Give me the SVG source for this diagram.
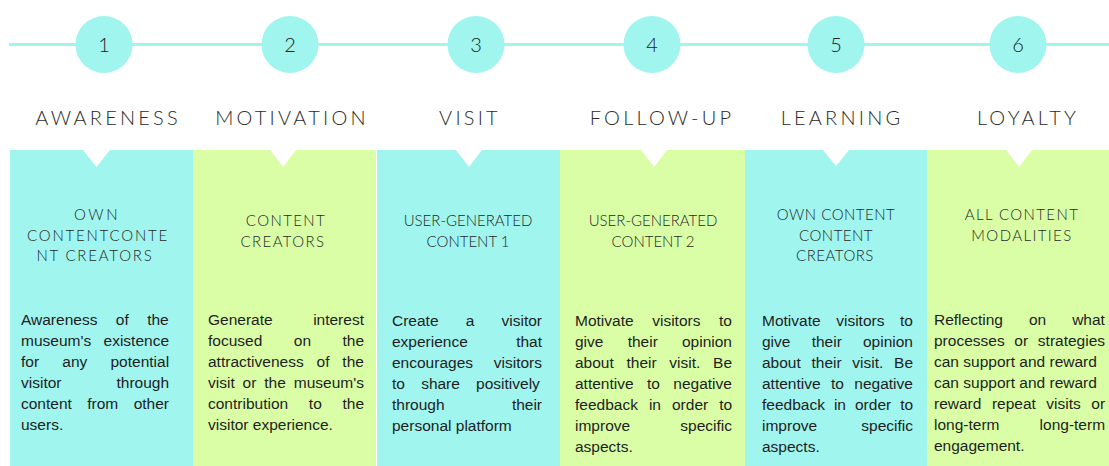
<svg xmlns="http://www.w3.org/2000/svg" width="1109" height="466" viewBox="0 0 1109 466">
  <style>
    .cyan { fill: #a0f5ee; }
    .green { fill: #d9fea5; }
    .notch { fill: #ffffff; }
    .num { font-family: Lato, "Noto Sans", sans-serif; font-size: 20px; fill: #222222; text-anchor: middle; font-weight: 300; }
    .stage { font-family: Lato, "Noto Sans", sans-serif; font-size: 20px; fill: #2a2a2a; text-anchor: middle; letter-spacing: 3.2px; font-weight: 300; }
    .sub { font-family: Lato, "Noto Sans", sans-serif; font-size: 15px; fill: #1f2a29; text-anchor: middle; font-weight: 300; }
    .body { font-family: "Liberation Sans", Arial, sans-serif; font-size: 15.5px; fill: #1e1e1e; }
    .timeline { stroke: #a0f5ee; stroke-width: 3; fill: none; }
  </style>

  <!-- horizontal timeline -->
  <g id="connectors">
    <line class="timeline" x1="9" y1="44.5" x2="1109" y2="44.5"/>
  </g>

  <!-- stage 1 -->
  <g id="stage-1">
    <circle class="cyan" cx="104" cy="44.5" r="28.5"/>
    <text class="num" x="104" y="52">1</text>
    <text class="stage" x="108" y="125">AWARENESS</text>
    <rect class="cyan" x="10" y="150" width="183" height="316"/>
    <polygon class="notch" points="83,150 110,150 96.5,167"/>
    <text class="sub" style="letter-spacing:2.6px" x="97" y="220">OWN</text>
    <text class="sub" style="letter-spacing:1.8px" x="98" y="241">CONTENTCONTE</text>
    <text class="sub" style="letter-spacing:1.8px" x="95" y="261">NT CREATORS</text>
    <text class="body" x="21" y="325" word-spacing="14.1">Awareness of the</text>
    <text class="body" x="21" y="346" word-spacing="8.1">museum's existence</text>
    <text class="body" x="21" y="367" word-spacing="18.9">for any potential</text>
    <text class="body" x="21" y="388" word-spacing="50.7">visitor through</text>
    <text class="body" x="21" y="409" word-spacing="11.1">content from other</text>
    <text class="body" x="21" y="430">users.</text>
  </g>

  <!-- stage 2 -->
  <g id="stage-2">
    <circle class="cyan" cx="290" cy="44.5" r="28.5"/>
    <text class="num" x="290" y="52">2</text>
    <text class="stage" x="292" y="125">MOTIVATION</text>
    <rect class="green" x="193" y="150" width="183" height="316"/>
    <polygon class="notch" points="270,150 296,150 283,167"/>
    <text class="sub" style="letter-spacing:1.4px" x="286" y="226">CONTENT</text>
    <text class="sub" style="letter-spacing:1.4px" x="283" y="247">CREATORS</text>
    <text class="body" x="208" y="325" word-spacing="36.2">Generate interest</text>
    <text class="body" x="208" y="346" word-spacing="27.2">focused on the</text>
    <text class="body" x="208" y="367" word-spacing="8.6">attractiveness of the</text>
    <text class="body" x="208" y="388" word-spacing="3.6">visit or the museum's</text>
    <text class="body" x="208" y="409" word-spacing="16.4">contribution to the</text>
    <text class="body" x="208" y="430">visitor experience.</text>
  </g>

  <!-- stage 3 -->
  <g id="stage-3">
    <circle class="cyan" cx="476" cy="44.5" r="28.5"/>
    <text class="num" x="476" y="52">3</text>
    <text class="stage" x="470" y="125">VISIT</text>
    <rect class="cyan" x="377" y="150" width="183" height="316"/>
    <polygon class="notch" points="456,150 482,150 469,167"/>
    <text class="sub" x="468" y="226">USER-GENERATED</text>
    <text class="sub" x="468" y="247">CONTENT 1</text>
    <text class="body" x="392" y="326" word-spacing="22.9">Create a visitor</text>
    <text class="body" x="392" y="347" word-spacing="44">experience that</text>
    <text class="body" x="392" y="368" word-spacing="16.5">encourages visitors</text>
    <text class="body" x="392" y="389" word-spacing="11.9">to share positively</text>
    <text class="body" x="392" y="410" word-spacing="63">through their</text>
    <text class="body" x="392" y="431">personal platform</text>
  </g>

  <!-- stage 4 -->
  <g id="stage-4">
    <circle class="cyan" cx="652" cy="44.5" r="28.5"/>
    <text class="num" x="652" y="52">4</text>
    <text class="stage" x="662" y="125">FOLLOW-UP</text>
    <rect class="green" x="560" y="150" width="185" height="316"/>
    <polygon class="notch" points="641,150 667,150 654,167"/>
    <text class="sub" x="653" y="226">USER-GENERATED</text>
    <text class="sub" x="653" y="247">CONTENT 2</text>
    <text class="body" x="575" y="326" word-spacing="14.3">Motivate visitors to</text>
    <text class="body" x="575" y="347" word-spacing="19.9">give their opinion</text>
    <text class="body" x="575" y="368" word-spacing="8.4">about their visit. Be</text>
    <text class="body" x="575" y="389" word-spacing="9.1">attentive to negative</text>
    <text class="body" x="575" y="410" word-spacing="6.7">feedback in order to</text>
    <text class="body" x="575" y="431" word-spacing="45.9">improve specific</text>
    <text class="body" x="575" y="452">aspects.</text>
  </g>

  <!-- stage 5 -->
  <g id="stage-5">
    <circle class="cyan" cx="836" cy="44.5" r="28.5"/>
    <text class="num" x="836" y="52">5</text>
    <text class="stage" x="842" y="125">LEARNING</text>
    <rect class="cyan" x="745" y="150" width="182" height="316"/>
    <polygon class="notch" points="823,150 849,150 836,166"/>
    <text class="sub" style="letter-spacing:0.5px" x="836" y="220">OWN CONTENT</text>
    <text class="sub" style="letter-spacing:0.5px" x="836" y="241">CONTENT</text>
    <text class="sub" style="letter-spacing:0.5px" x="835" y="261">CREATORS</text>
    <text class="body" x="762" y="326" word-spacing="11.3">Motivate visitors to</text>
    <text class="body" x="762" y="347" word-spacing="16.9">give their opinion</text>
    <text class="body" x="762" y="368" word-spacing="6.4">about their visit. Be</text>
    <text class="body" x="762" y="389" word-spacing="6.1">attentive to negative</text>
    <text class="body" x="762" y="410" word-spacing="4.7">feedback in order to</text>
    <text class="body" x="762" y="431" word-spacing="39.9">improve specific</text>
    <text class="body" x="762" y="452">aspects.</text>
  </g>

  <!-- stage 6 -->
  <g id="stage-6">
    <circle class="cyan" cx="1018" cy="44.5" r="28.5"/>
    <text class="num" x="1018" y="52">6</text>
    <text class="stage" x="1028" y="125">LOYALTY</text>
    <rect class="green" x="927" y="150" width="182" height="316"/>
    <polygon class="notch" points="1006,150 1032,150 1019,167"/>
    <text class="sub" style="letter-spacing:1.4px" x="1022" y="220">ALL CONTENT</text>
    <text class="sub" style="letter-spacing:1.4px" x="1022" y="241">MODALITIES</text>
    <text class="body" x="934" y="325" word-spacing="21.7">Reflecting on what</text>
    <text class="body" x="934" y="346" word-spacing="5.4">processes or strategies</text>
    <text class="body" x="934" y="367">can support and reward</text>
    <text class="body" x="934" y="388">can support and reward</text>
    <text class="body" x="934" y="409" word-spacing="6.2">reward repeat visits or</text>
    <text class="body" x="934" y="430" word-spacing="35.8">long-term long-term</text>
    <text class="body" x="934" y="451">engagement.</text>
  </g>
</svg>
